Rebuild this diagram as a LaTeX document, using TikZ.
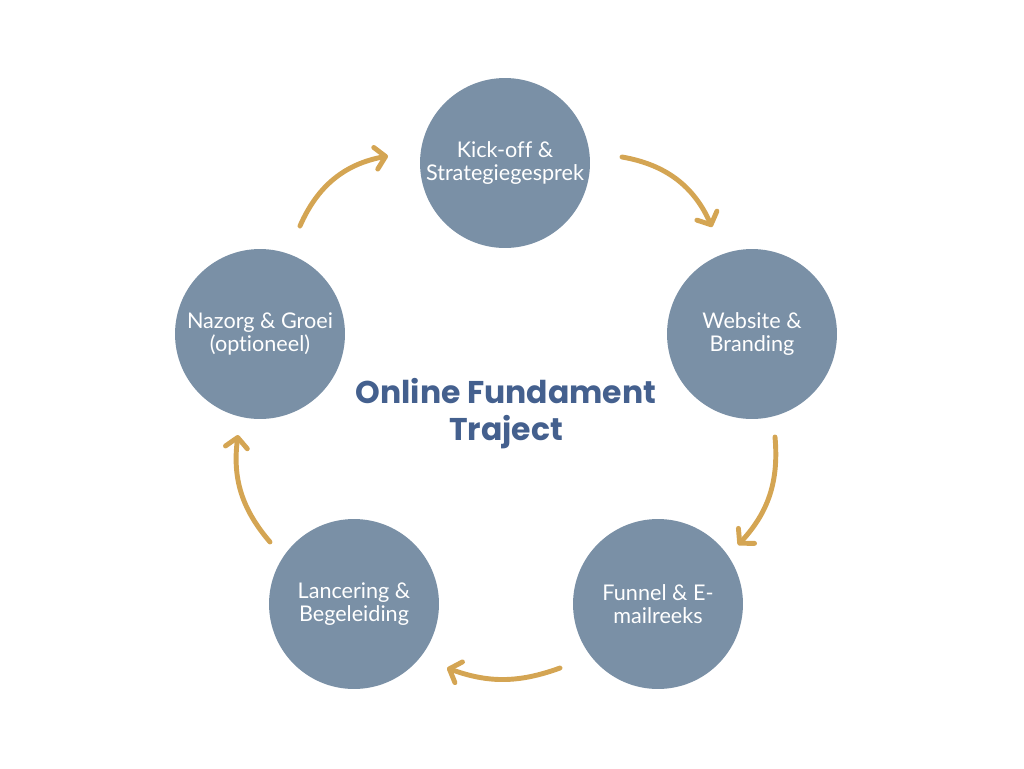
\documentclass[tikz,border=0pt]{standalone}
\usepackage{fontspec}
\setmainfont{Lato}[Ligatures=NoCommon]
\newfontfamily\titlefont{Poppins}
\usepackage{tikz}
\usetikzlibrary{arrows.meta}
\definecolor{stepBlue}{RGB}{122,144,166}
\definecolor{titleBlue}{RGB}{68,96,142}
\definecolor{flowGold}{RGB}{212,165,83}

\begin{document}
\begin{tikzpicture}[
    x={(0.02cm,0)}, y={(0,-0.02cm)},
    stage/.style={circle, fill=stepBlue, minimum size=3.4cm, inner sep=0pt, align=center, text=white, font=\fontsize{12.3}{13}\selectfont},
    flow/.style={-{Straight Barb[length=2mm, width=4.4mm, line cap=round, line join=round]}, draw=flowGold, line width=2.8pt, line cap=round, bend left=#1},
    flow/.default=28
]
\useasboundingbox (0,0) rectangle (1024,768);

% Nodes
\node[stage] (kick) at (505,163) {Kick-off \&\\Strategiegesprek};
\node[stage] (web) at (752,334) {Website \&\\Branding};
\node[stage] (funnel) at (658,604) {Funnel \& E-\\mailreeks};
\node[stage] (launch) at (354,604) {Lancering \&\\Begeleiding};
\node[stage] (care) at (260,334) {Nazorg \& Groei\\(optioneel)};

% Title
\node[font=\titlefont\bfseries\fontsize{17.9}{21}\selectfont, text=titleBlue, align=center] (title) at (506,414) {Online Fundament\\Traject};

% Arrow ends
\coordinate (k1) at (622,157);
\coordinate (w0) at (712,227);
\coordinate (w1) at (775,437);
\coordinate (f0) at (738,545);
\coordinate (f1) at (560,668);
\coordinate (l0) at (447,668);
\coordinate (l1) at (270,542);
\coordinate (c0) at (238,435);
\coordinate (c1) at (300,226);
\coordinate (k0) at (388,156);

% Arrows
\draw[flow] (k1) to (w0);
\draw[flow=24] (w1) to (f0);
\draw[flow=20] (f1) to (l0);
\draw[flow=24] (l1) to (c0);
\draw[flow] (c1) to (k0);
\end{tikzpicture}
\end{document}
